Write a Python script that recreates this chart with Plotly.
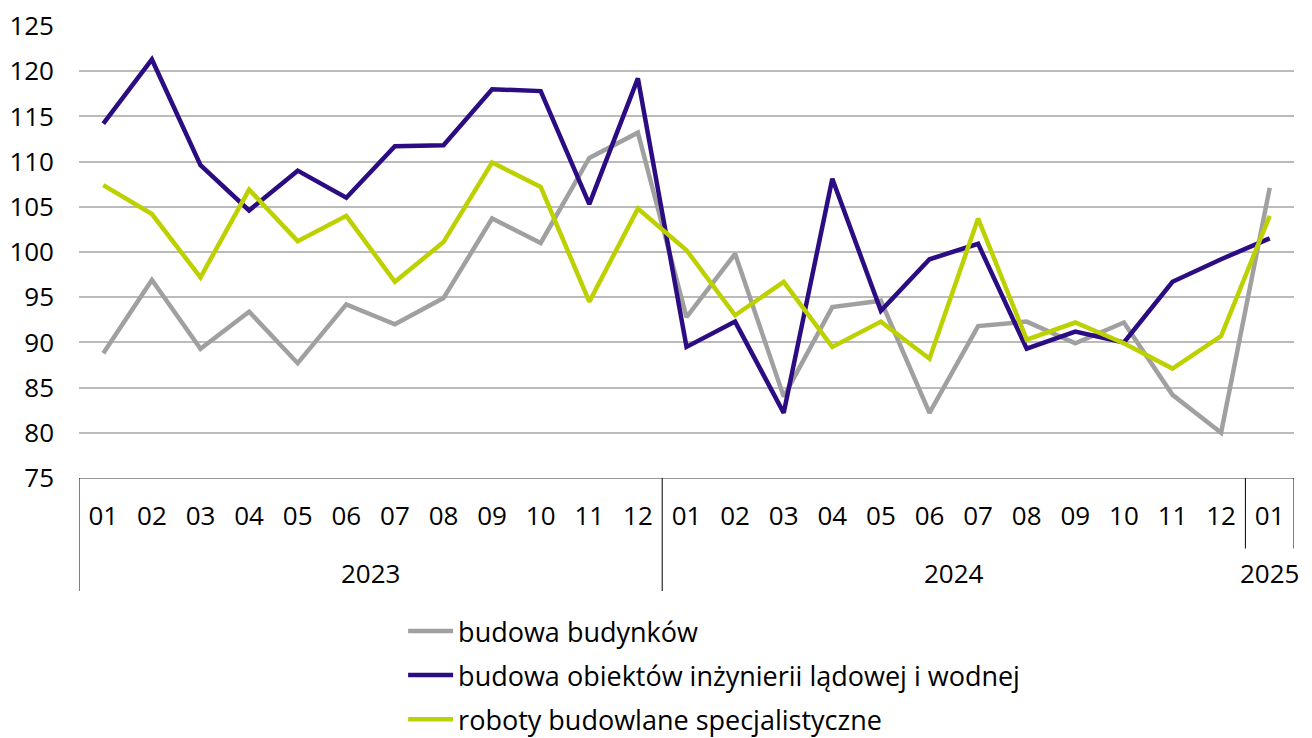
import plotly.graph_objects as go

years = ["2023"] * 12 + ["2024"] * 12 + ["2025"]
months = ["01", "02", "03", "04", "05", "06", "07", "08", "09", "10", "11", "12",
          "01", "02", "03", "04", "05", "06", "07", "08", "09", "10", "11", "12", "01"]

budowa_budynkow = [88.8, 96.9, 89.3, 93.4, 87.7, 94.2, 92.0, 94.9, 103.7, 101.0, 110.4, 113.2,
                   92.8, 99.8, 84.0, 93.9, 94.6, 82.2, 91.8, 92.3, 89.9, 92.2, 84.2, 80.0, 107.1]
inzynieria = [114.2, 121.3, 109.6, 104.6, 109.0, 106.0, 111.7, 111.8, 118.0, 117.8, 105.3, 119.2,
              89.5, 92.3, 82.2, 108.1, 93.5, 99.2, 100.9, 89.3, 91.2, 90.0, 96.7, 99.2, 101.5]
roboty = [107.4, 104.2, 97.2, 106.9, 101.2, 104.0, 96.7, 101.1, 109.9, 107.2, 94.5, 104.8,
          100.2, 93.0, 96.7, 89.5, 92.3, 88.2, 103.7, 90.3, 92.2, 89.9, 87.1, 90.7, 104.0]

names = ["budowa budynków", "budowa obiektów inżynierii lądowej i wodnej",
         "roboty budowlane specjalistyczne"]
colors = ["#A0A0A0", "#2B0C82", "#BDD000"]
baseline = 100

FONT = "Open Sans, sans-serif"
idx = list(range(len(months)))

fig = go.Figure()
for i, (vals, name, col) in enumerate(zip([budowa_budynkow, inzynieria, roboty], names, colors)):
    fig.add_trace(go.Scatter(x=idx, y=vals, name=name, mode="lines", legendgroup=f"g{i}",
                             line=dict(color=col, width=4.5)))

# reference line at 100
fig.add_shape(type="line", xref="paper", yref="y", x0=0, x1=1, y0=baseline, y1=baseline,
              line=dict(color="black", width=1), layer="below")

# year groups: dividers and labels
bounds = [-0.5]
for i in range(1, len(years)):
    if years[i] != years[i - 1]:
        bounds.append(i - 0.5)
bounds.append(len(years) - 0.5)
for b in bounds:
    fig.add_shape(type="line", xref="x", yref="paper", x0=b, x1=b, y0=0, y1=-0.25,
                  line=dict(color="black", width=1))
for y in dict.fromkeys(years):
    pos = [i for i, v in enumerate(years) if v == y]
    fig.add_annotation(x=sum(pos) / len(pos), xref="x", y=-0.21, yref="paper",
                       text=y, showarrow=False, yanchor="middle", xanchor="center",
                       font=dict(size=26), bgcolor="white", borderpad=6)

fig.update_layout(
    width=1304, height=730,
    margin=dict(l=71, r=18, t=18, b=260, autoexpand=False),
    plot_bgcolor="white", paper_bgcolor="white",
    font=dict(family=FONT, size=26, color="black"),
    showlegend=True,
    legend=dict(orientation="v", xref="container", yref="container",
                x=0.303, xanchor="left", y=0.1795, yanchor="top",
                font=dict(size=27), itemwidth=45, tracegroupgap=6),
    xaxis=dict(range=[-0.5, len(months) - 0.5], tickvals=idx, ticktext=months,
               showline=True, linecolor="#999999", linewidth=1, showgrid=False,
               zeroline=False, ticks="", ticklabelstandoff=15, tickfont=dict(size=26),
               automargin=False, ticklabeloverflow="allow"),
    yaxis=dict(range=[75, 125], tickvals=list(range(75, 126, 5)), showgrid=True,
               gridcolor="#BBBBBB", gridwidth=1.5, zeroline=False, showline=False,
               ticks="", ticklabelstandoff=24, tickfont=dict(size=26), automargin=False,
               ticklabeloverflow="allow"),
)

fig.write_html("out.html")
